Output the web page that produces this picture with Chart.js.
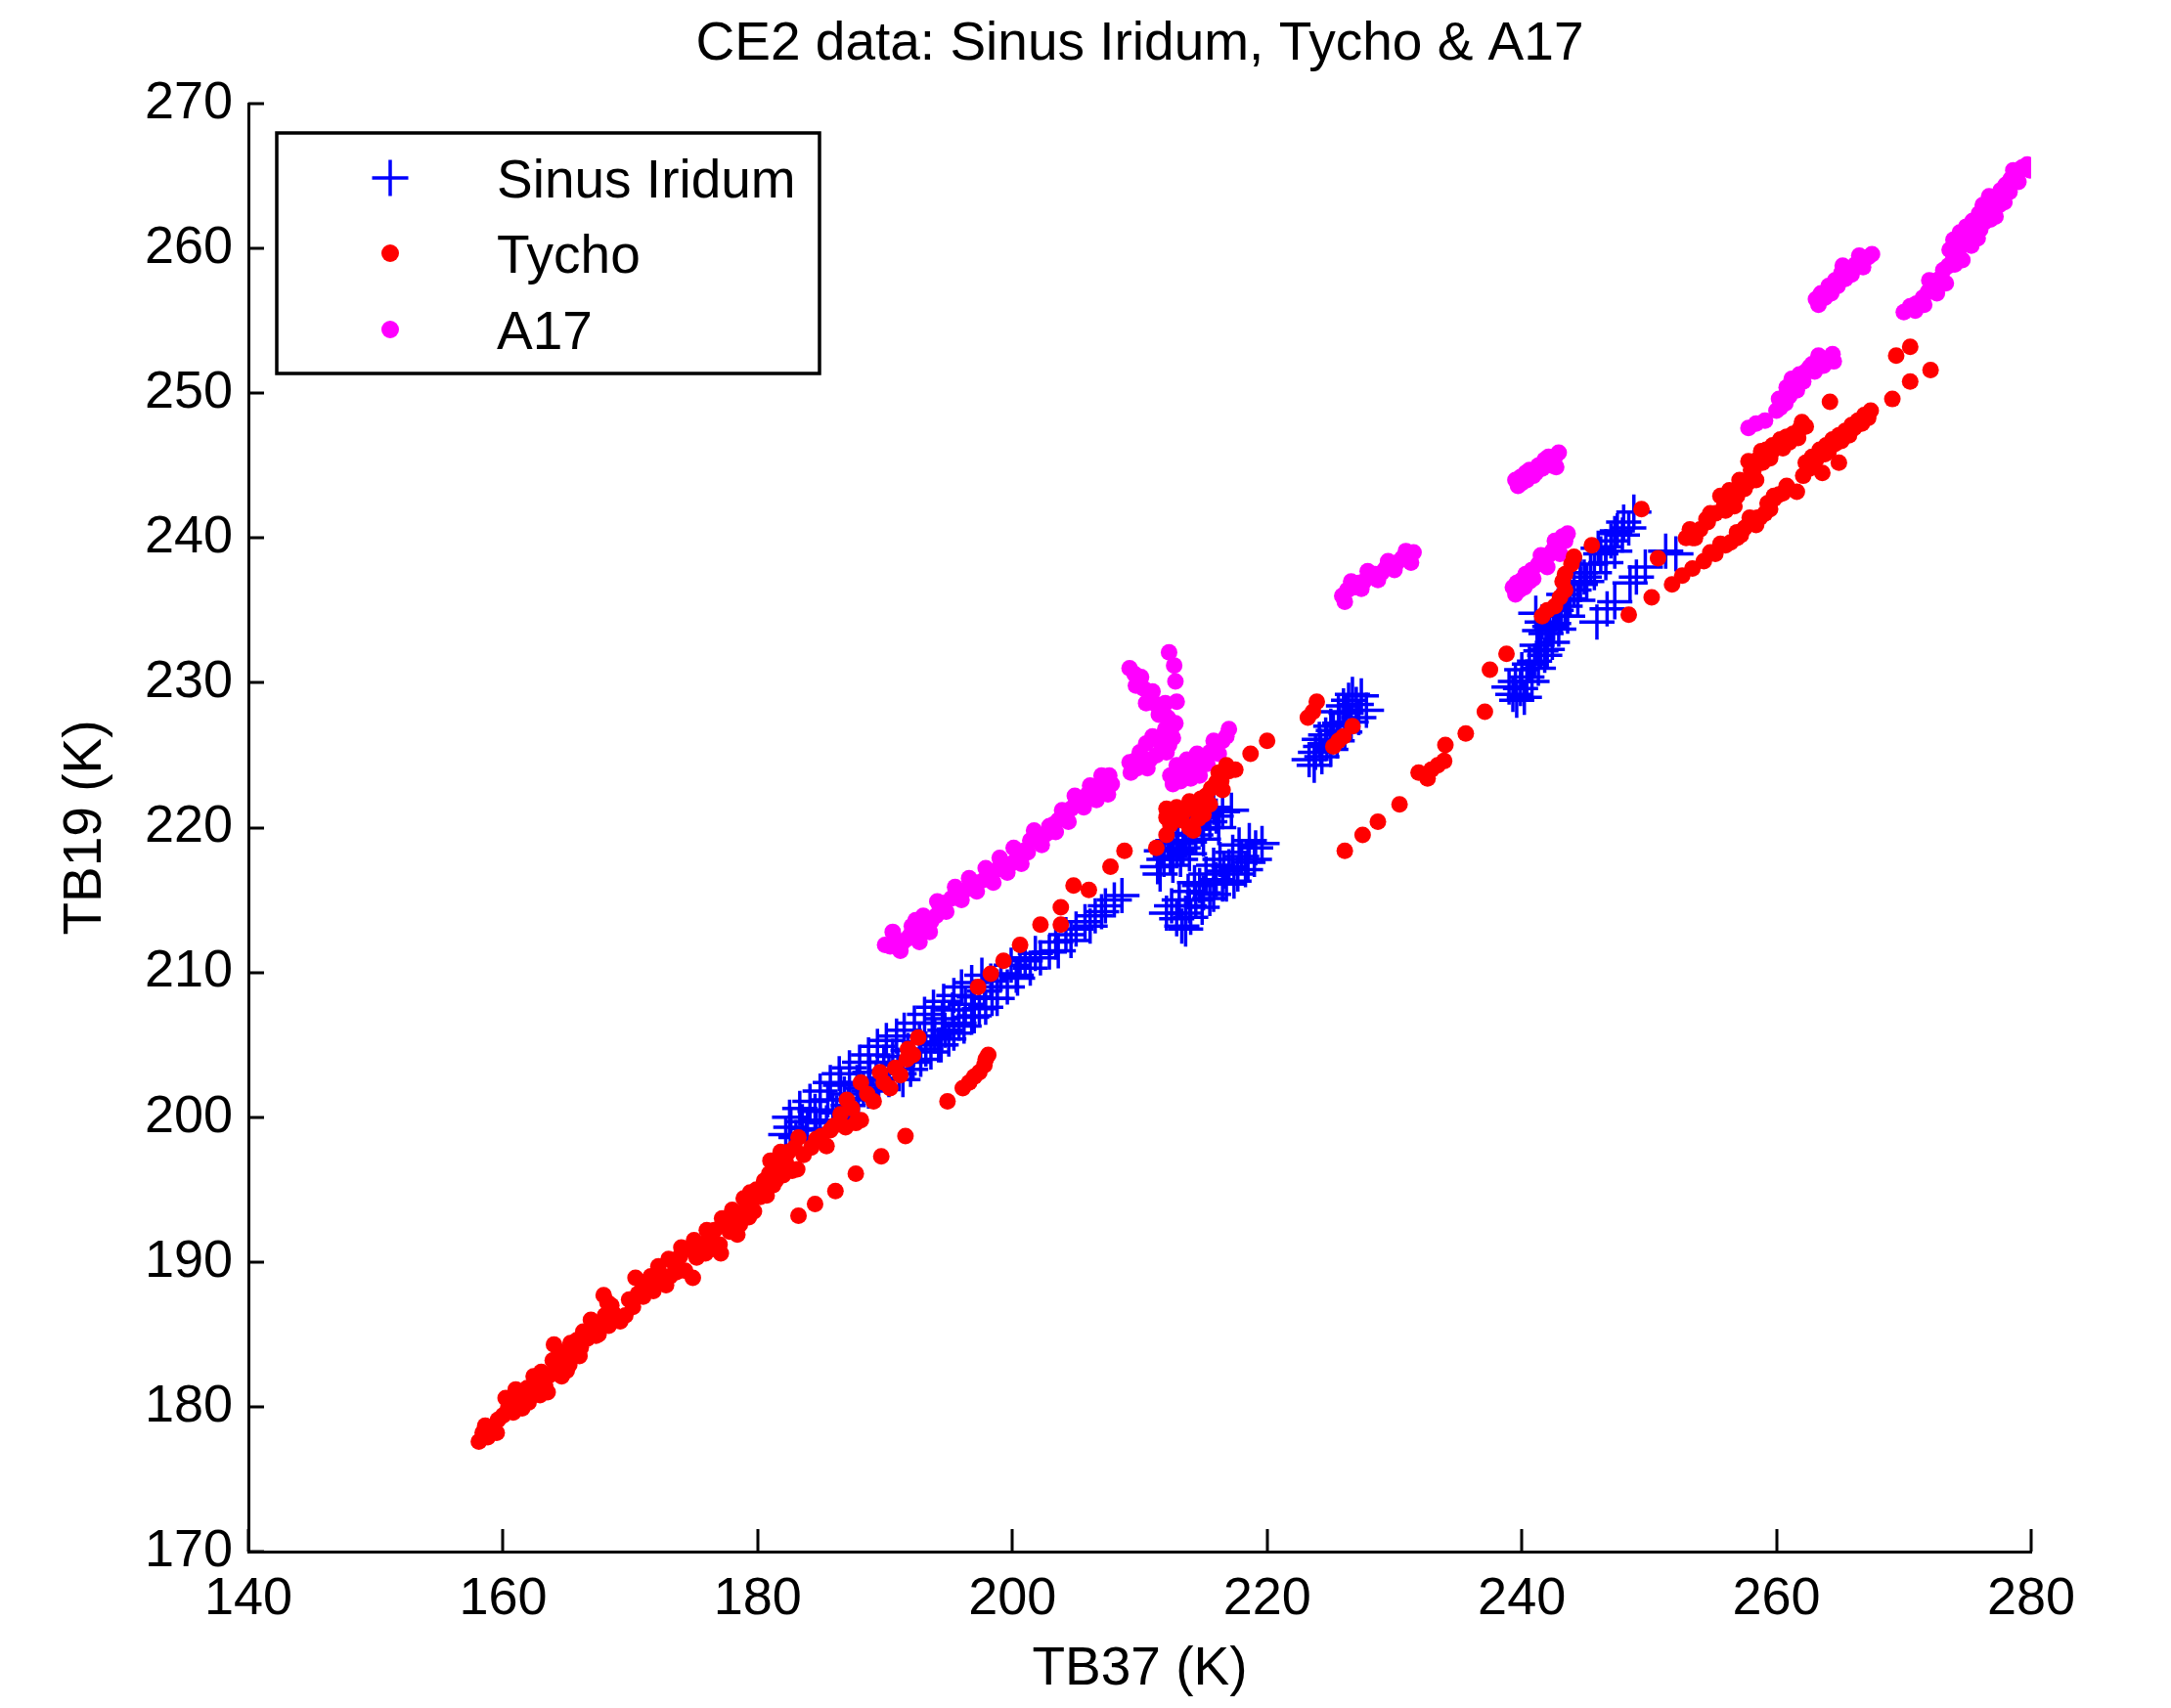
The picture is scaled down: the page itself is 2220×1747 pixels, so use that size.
<!DOCTYPE html>
<html>
<head>
<meta charset="utf-8">
<title>CE2 data: Sinus Iridum, Tycho &amp; A17</title>
<script src="https://cdn.jsdelivr.net/npm/chart.js@4.4.1/dist/chart.umd.min.js"></script>
<style>
html,body{margin:0;padding:0;background:#ffffff;}
#wrap{position:relative;width:2220px;height:1747px;}
canvas{display:block;}
</style>
</head>
<body>
<div id="wrap"><canvas id="chart" width="2220" height="1747"></canvas></div>
<script>
// ---------------- data ----------------
const chartTitle = 'CE2 data: Sinus Iridum, Tycho & A17';
const xAxisLabel = 'TB37 (K)';
const yAxisLabel = 'TB19 (K)';
const seriesNames = ['Sinus Iridum', 'Tycho', 'A17'];
const xRange = [140, 280];
const xStep = 20;
const yRange = [170, 270];
const yStep = 10;

// Sinus Iridum: [TB37, TB19]
const sinusIridum = [
  [182.2,198.8],[182.6,199.3],[183.0,198.6],[183.5,199.7],[183.9,199.2],[184.5,200.4],[184.9,199.8],
  [185.5,201.2],[185.9,200.5],[186.5,202.2],[186.8,201.6],[187.2,201.2],[187.8,202.4],[188.3,202.0],
  [188.8,203.1],[189.3,202.7],[189.9,203.8],[190.3,203.2],[190.6,204.2],[191.0,203.6],[191.4,202.6],
  [191.8,204.6],[192.2,203.8],[192.7,205.2],[193.2,204.7],[193.7,206.5],[193.9,205.6],[194.2,205.0],
  [194.5,206.8],[194.7,206.0],[195.0,205.4],[195.3,207.4],[195.8,206.5],[196.3,207.8],[196.8,206.9],
  [197.0,208.3],[197.4,207.5],[197.8,208.7],[198.3,209.4],[198.4,208.2],[198.8,209.0],[199.1,209.9],
  [199.9,210.5],[200.3,209.8],[200.6,211.0],[201.4,210.3],[202.2,211.0],[202.9,211.4],[203.4,212.1],
  [204.2,212.6],[205.0,213.0],[205.7,213.5],[206.5,213.9],[207.3,214.6],[208.0,215.0],[208.6,215.3],
  [182.5,200.0],[183.3,200.6],[184.1,201.1],[184.9,201.8],[185.7,202.4],[186.4,203.0],[187.2,203.4],
  [188.0,203.8],[188.7,204.3],[189.4,204.9],[190.1,205.3],[190.9,205.6],[191.5,206.0],[192.3,206.5],
  [193.1,207.1],[193.8,207.6],[194.6,208.0],[195.4,208.4],[196.0,209.0],[196.8,209.3],[197.6,209.8],
  [183.8,198.4],[184.6,199.1],[185.4,199.6],[186.2,200.3],[187.1,200.8],[187.9,201.3],[188.7,201.8],
  [189.5,202.2],[190.3,202.6],[191.1,203.0],[192.0,203.3],[192.8,204.0],[193.6,204.5],[194.4,205.0],
  [195.4,205.8],[196.2,206.3],[197.0,207.0],[197.9,207.6],[198.8,208.2],[199.6,209.0],[200.4,209.6],
  [201.0,210.8],[201.8,211.3],[203.6,211.5],[204.6,212.2],[206.1,213.2],[207.0,214.2],
  [211.4,217.3],[211.9,217.8],[212.4,218.0],[212.9,218.4],[213.4,218.6],[213.9,219.0],[214.4,219.5],
  [214.9,219.9],[215.5,220.4],[216.0,220.8],[216.5,221.1],[217.2,221.2],[212.9,219.5],[214.7,220.7],
  [213.2,217.8],[211.7,218.4],[212.2,218.9],[212.6,219.1],[213.6,219.6],[214.2,220.2],[215.2,221.0],
  [215.8,221.4],[213.0,218.9],[211.6,216.8],[212.6,217.4],[213.9,218.2],[215.0,219.2],[216.2,220.0],
  [212.1,214.1],[212.9,213.7],[213.3,213.2],[213.6,214.1],[213.9,214.6],[214.4,215.0],[215.0,215.5],
  [215.5,215.1],[214.7,216.0],[216.0,216.4],[216.5,216.1],[216.6,217.0],[217.0,217.3],[217.7,216.8],
  [218.0,218.0],[218.5,217.6],[219.1,218.6],[219.6,218.9],
  [212.5,214.6],[213.1,215.0],[213.8,215.6],[214.3,216.2],[215.2,216.8],[215.8,217.4],[216.3,217.8],
  [217.3,218.3],[217.8,218.8],[218.6,219.1],[214.0,213.8],[214.9,214.5],[215.8,215.4],[216.8,216.1],
  [217.4,216.3],[218.3,217.1],[219.0,217.8],[213.6,213.0],
  [223.3,224.7],[223.8,225.2],[224.2,225.6],[224.6,226.4],[224.7,225.8],[225.2,226.7],[225.7,227.2],
  [226.0,228.4],[226.2,227.9],[226.7,229.2],[227.0,228.5],[227.8,228.1],
  [223.7,224.3],[224.3,224.9],[225.0,225.4],[225.5,226.0],[226.1,226.6],[226.6,227.3],[227.2,227.6],
  [224.1,226.1],[225.0,227.0],[225.6,228.0],[226.4,228.8],[227.4,229.1],
  [239.0,229.7],[239.5,230.1],[239.6,228.8],[240.0,230.9],[240.2,229.0],[240.6,231.3],[240.8,230.1],
  [241.2,232.6],[241.3,231.0],[241.8,231.9],[241.9,233.4],[242.4,232.8],[242.5,234.1],[242.9,233.7],
  [243.1,234.6],[241.6,234.2],[241.1,234.8],[243.4,235.3],[244.1,236.4],[244.6,236.8],[244.9,237.3],
  [245.4,238.2],[246.2,238.9],[247.0,239.8],[247.3,240.3],[247.5,240.5],[248.0,241.1],[248.8,241.8],
  [239.3,229.2],[239.9,229.6],[240.4,230.4],[241.0,231.5],[241.5,232.2],[242.0,232.3],[242.2,233.9],
  [242.7,235.0],[243.6,234.6],[243.8,235.8],[244.4,235.7],[244.6,237.6],[245.1,237.0],[245.7,237.6],
  [246.0,239.3],[246.6,239.4],[246.6,238.3],[247.3,239.1],[247.9,240.2],[248.4,240.7],[243.3,236.1],
  [241.4,233.6],
  [245.9,234.2],[246.7,235.1],[247.3,235.6],[248.5,236.9],[249.0,237.3],[249.7,238.0],[251.3,239.1],
  [252.1,238.9]
];

// Tycho: [TB37, TB19]
const tycho = [
  [158.1,177.6],[158.4,178.2],[158.8,177.9],[159.2,178.6],[159.6,179.1],[160.0,179.4],[160.4,179.9],
  [160.8,179.6],[160.6,180.5],[161.2,180.3],[161.6,180.7],[161.9,181.3],[162.3,181.0],[162.4,182.1],
  [162.6,181.6],[162.9,180.8],[163.3,181.5],[163.7,182.2],[163.9,183.2],[164.0,184.3],[164.3,182.8],
  [164.6,182.1],[164.9,183.4],[165.2,182.9],[165.5,183.8],[165.8,184.6],[166.1,184.1],[166.3,185.2],
  [166.6,184.7],[167.0,185.4],[167.3,184.9],[167.7,185.6],[168.0,186.3],[168.2,187.2],[168.3,185.6],
  [168.7,186.4],[169.2,185.9],[169.6,186.3],[169.9,187.4],[170.2,186.9],[170.6,187.8],[170.9,188.6],
  [171.3,188.2],[171.6,189.0],[172.0,188.6],[172.4,189.1],[172.8,188.4],[173.1,189.0],[173.5,189.8],
  [173.9,190.4],[174.3,189.4],[174.6,190.9],[174.9,188.9],[175.2,190.3],[175.6,191.2],[175.9,190.6],
  [176.2,191.6],[176.6,192.2],[177.0,191.2],[177.1,190.6],[177.4,192.6],[177.8,192.1],[178.2,193.0],
  [178.6,192.6],[179.0,193.6],[179.3,193.1],[179.6,194.3],[179.9,195.0],[180.2,194.5],[180.5,195.6],
  [180.9,196.1],[181.2,195.3],[181.5,196.6],[181.8,197.6],[182.2,196.9],[182.7,196.3],[183.1,196.4],
  [158.6,178.7],[159.5,178.2],[160.2,180.6],[161.0,181.2],[161.5,179.9],[162.0,180.3],[163.0,182.4],
  [163.5,181.0],[164.4,183.8],[165.0,182.5],[165.3,184.4],[166.0,183.5],[166.9,186.0],[167.5,185.0],
  [167.9,187.7],[168.5,187.0],[170.4,188.9],[171.0,187.6],[171.8,188.0],[172.2,189.7],[173.0,190.2],
  [173.6,189.3],[174.0,191.0],[175.0,191.5],[176.0,192.2],[176.4,190.9],[177.2,193.0],[178.0,193.6],
  [178.4,191.9],[178.9,194.4],[179.4,194.8],[179.7,193.5],[180.7,194.6],[181.0,197.0],[181.4,195.6],
  [182.0,196.0],[182.4,197.6],
  [182.9,197.9],[183.2,198.6],[183.6,197.4],[184.2,197.9],[184.6,198.5],[185.0,198.7],[185.4,198.0],
  [185.7,199.1],[186.0,199.4],[186.5,200.2],[186.9,199.3],[187.0,201.2],[187.4,200.6],[187.7,199.6],
  [188.1,199.8],[188.1,202.4],[188.6,201.6],[189.1,201.1],[189.6,203.1],[189.9,202.4],[190.4,202.0],
  [190.8,203.4],[191.2,202.9],[191.7,204.0],[191.8,204.7],[192.2,204.3],[192.6,205.5],
  [183.2,193.2],[184.5,194.0],[186.1,194.9],[187.7,196.1],[189.7,197.3],[191.6,198.7],
  [194.9,201.1],[196.1,202.0],[196.6,202.4],[197.0,202.8],[197.4,203.1],[197.8,203.6],[197.9,204.0],
  [198.1,204.3],
  [197.3,209.0],[198.3,209.9],[199.3,210.8],[200.6,211.9],[202.2,213.3],[203.8,214.5],[203.8,213.3],
  [204.8,216.0],[206.0,215.7],[207.7,217.3],
  [208.8,218.4],[211.3,218.6],[212.1,219.5],[212.1,220.7],[212.1,221.3],[212.4,220.2],[212.7,221.1],
  [212.9,221.4],[213.9,220.0],[214.2,219.8],[213.9,221.8],[214.4,221.3],[214.6,220.6],[215.0,220.9],
  [215.2,222.2],[215.5,221.6],[216.0,223.1],[216.2,223.8],[216.5,222.6],[217.0,223.9],[217.5,224.0],
  [213.3,220.5],[213.6,221.2],[214.8,222.0],[215.6,222.7],[216.4,223.2],[216.8,224.3],
  [218.7,225.1],[220.0,226.0],
  [223.2,227.6],[223.6,228.0],[223.9,228.7],[225.2,225.6],[225.6,226.0],[226.0,226.3],[226.7,227.0],
  [226.1,218.4],[227.5,219.5],[228.7,220.4],[230.4,221.6],[231.9,223.8],[232.6,223.4],[232.9,224.0],
  [233.4,224.3],[233.9,224.6],[234.0,225.7],[235.6,226.5],[237.1,228.0],[237.5,230.9],[238.8,232.0],
  [241.6,234.6],[242.0,235.0],[242.6,235.3],[243.0,235.9],[243.4,236.4],[243.2,237.0],[243.4,237.5],
  [243.9,238.2],[244.1,238.7],[245.5,239.5],[249.4,242.0],
  [248.4,234.7],[250.2,235.9],[250.7,238.6],[251.8,236.8],[252.6,237.4],[253.4,237.9],[254.3,238.4],
  [255.2,238.9],[256.0,239.5],[256.9,240.0],[257.5,240.7],[258.1,241.0],[258.7,241.4],[259.1,241.7],
  [259.5,242.0],[259.8,242.9],[260.8,243.6],[261.6,243.2],[256.9,240.4],[258.5,241.4],[259.8,242.7],
  [254.8,239.0],[255.6,239.6],[256.4,239.7],[257.2,240.2],[257.9,241.4],[258.4,240.9],[259.3,242.4],
  [260.2,243.0],[260.5,243.1],
  [252.9,240.0],[253.4,240.0],[253.6,240.0],[254.5,241.3],[254.6,241.1],[255.2,241.7],[255.9,242.3],
  [256.4,242.6],[256.9,242.9],[257.2,243.4],[257.5,243.8],[257.5,243.4],[258.0,244.7],[258.2,244.7],
  [258.5,245.4],[259.2,246.1],[259.7,246.4],[260.3,246.8],[260.8,247.0],[261.3,247.2],[261.8,247.5],
  [262.3,247.7],[256.3,243.3],[257.8,245.3],[258.8,246.0],[259.5,245.5],[255.6,242.9],
  [253.2,240.6],[254.0,240.6],[254.8,241.7],[256.0,241.9],[256.7,242.2],[257.1,244.0],[257.9,243.9],
  [258.4,244.0],[258.9,245.2],[259.6,245.9],[260.5,246.2],[261.0,246.6],[261.7,246.9],[262.0,248.0],
  [262.1,244.3],[262.3,245.2],[262.8,245.6],[263.4,246.1],[263.6,244.5],[263.9,246.4],[264.4,246.8],
  [264.9,245.2],[264.9,247.1],[265.4,247.4],[265.9,247.8],[266.4,248.1],[266.9,248.5],[267.4,248.8],
  [262.6,244.8],[263.1,245.4],[263.8,245.8],[264.1,246.0],[264.6,246.5],[265.1,246.7],[265.7,247.1],
  [266.1,247.6],[266.7,247.9],[267.2,248.3],
  [264.2,249.4],[269.1,249.6],[270.5,250.8],[272.1,251.6],[269.4,252.6],[270.5,253.2]
];

// A17: [TB37, TB19]
const a17 = [
  [190.0,211.9],[190.4,211.8],[190.9,212.2],[191.4,212.1],[191.7,212.3],[192.1,213.2],[192.7,212.1],
  [192.8,212.6],[193.2,213.2],[193.6,213.5],[194.0,213.9],[194.3,214.5],[194.7,214.8],[195.2,215.1],
  [195.8,215.5],[196.3,215.7],[196.8,215.9],[197.3,216.2],[197.8,216.4],[198.3,216.8],[198.8,217.1],
  [199.3,217.4],[199.9,217.5],[200.4,218.0],[200.9,218.4],[201.4,219.1],[201.9,219.2],[202.4,219.4],
  [202.7,219.6],[203.2,220.2],[203.6,220.5],[204.1,220.9],[204.6,221.3],[205.0,221.8],[205.4,222.0],
  [205.9,222.3],[206.4,222.5],[206.8,222.8],[207.2,223.1],[207.5,222.3],[207.6,223.6],
  [190.6,212.8],[191.2,211.5],[192.0,212.6],[192.4,213.6],[193.0,213.9],[193.5,212.8],[194.1,214.9],
  [194.8,214.2],[195.5,215.9],[196.0,215.0],[196.6,216.5],[197.2,215.6],[197.9,217.2],[198.5,216.2],
  [199.0,217.9],[199.6,216.9],[200.1,218.6],[200.7,217.5],[201.2,218.3],[201.7,219.8],[202.3,218.8],
  [202.9,220.1],[203.4,219.7],[203.9,221.2],[204.4,220.4],[204.9,222.2],[205.6,221.4],[206.1,222.9],
  [206.6,221.9],[207.0,223.6],[207.8,223.0],
  [209.6,230.6],[209.9,230.2],[210.3,229.6],[210.8,229.0],[211.3,228.5],[211.8,228.1],[212.2,227.6],
  [212.5,226.9],[212.6,226.2],[212.3,225.7],[211.8,225.4],[211.3,225.0],[210.8,224.7],[210.3,224.4],
  [209.8,224.1],[209.3,223.8],[209.2,224.5],[210.0,225.2],[211.7,226.3],
  [209.2,231.0],[209.7,229.8],[210.1,230.4],[210.5,228.6],[211.0,229.4],[211.5,227.8],[212.0,228.6],
  [212.0,226.8],[212.8,227.2],[212.1,225.2],[211.6,225.9],[210.6,224.1],[209.6,224.6],[210.5,225.8],
  [211.0,226.3],
  [212.3,232.1],[212.7,231.2],[212.8,230.1],[212.9,228.7],
  [212.4,223.6],[212.9,224.3],[213.2,223.2],[213.4,224.0],[213.9,224.0],[214.0,223.4],[214.3,224.5],
  [214.7,223.6],[215.0,224.9],[215.5,225.2],[216.0,225.6],[216.5,226.0],[216.8,226.3],
  [212.6,223.0],[213.7,224.7],[214.5,225.1],[215.3,224.4],[215.8,226.0],[216.2,225.1],[217.0,226.8],
  [225.9,236.0],[226.3,236.4],[226.8,236.6],[227.2,236.9],[227.6,237.0],[228.1,237.3],[228.5,237.5],
  [229.0,237.6],[229.3,237.9],[229.8,238.2],[230.2,238.3],[230.6,238.6],[231.1,238.7],[231.5,239.0],
  [226.1,235.6],[226.6,237.0],[227.4,236.5],[227.9,237.7],[228.7,237.1],[229.5,238.4],[230.0,237.8],
  [230.9,239.1],[231.3,238.3],
  [239.3,236.6],[239.6,236.9],[239.8,236.4],[240.0,237.1],[240.3,237.5],[240.6,237.0],[240.8,237.8],
  [241.3,238.2],[241.8,238.6],[242.1,238.8],[242.4,239.1],[242.9,239.4],[243.2,240.1],[243.4,239.8],
  [239.5,236.1],[240.2,236.6],[240.9,237.2],[241.5,238.8],[242.0,238.0],[242.6,239.8],[243.0,238.9],
  [243.6,240.3],
  [239.5,244.0],[239.9,244.2],[240.0,243.8],[240.3,244.5],[240.6,244.7],[240.9,244.3],[241.3,245.0],
  [241.8,245.4],[242.4,245.0],[242.6,245.6],[242.9,245.9],
  [239.7,243.6],[240.4,244.0],[241.1,244.5],[241.6,244.8],[242.1,245.6],[242.7,244.9],
  [257.8,247.6],[258.4,247.9],[259.1,248.1],
  [260.0,248.8],[260.3,249.0],[260.5,249.6],[261.0,249.8],[260.8,250.4],[261.3,250.6],[261.8,251.3],
  [262.3,251.5],[262.8,252.0],[263.0,251.5],[263.4,252.2],[264.1,252.4],[264.4,252.7],
  [260.2,249.6],[260.7,249.3],[261.2,251.0],[261.6,250.2],[262.1,250.8],[262.6,251.8],[263.3,252.6],
  [263.7,251.9],[264.5,252.2],
  [263.1,256.5],[263.5,256.9],[263.8,256.6],[264.1,257.4],[264.3,256.9],[264.6,257.8],[265.1,258.3],
  [265.4,257.9],[265.6,258.6],[266.2,258.9],[266.7,259.2],[267.2,259.4],
  [263.3,256.1],[264.0,256.8],[264.8,257.4],[265.2,258.8],[265.9,258.2],[266.5,259.5],[266.8,258.7],
  [267.5,259.6],
  [270.0,255.6],[270.5,256.0],[271.0,256.2],[271.5,256.6],[271.9,257.0],[272.3,257.5],[272.8,257.9],
  [273.1,258.5],[273.5,258.8],[273.9,259.4],[274.3,259.9],[273.9,260.6],[274.4,261.1],[274.8,260.4],
  [275.2,260.8],[275.7,261.2],[275.4,261.9],[275.9,262.4],[276.3,261.8],[276.5,262.9],[276.9,263.2],
  [277.3,263.6],[277.6,264.0],[277.2,262.2],[278.0,264.4],[278.4,264.8],[278.9,265.2],[279.3,265.6],
  [279.7,265.8],
  [272.6,256.9],[273.3,257.6],[273.6,259.9],[274.0,258.9],[274.6,259.2],[274.2,260.4],[274.9,261.5],
  [275.3,260.2],[275.8,260.7],[276.0,261.3],[276.8,262.0],[276.2,263.0],[276.7,263.6],[277.5,263.0],
  [277.9,263.2],[278.3,263.9],[278.6,265.4],[279.0,264.6],[279.9,265.4],[270.9,255.7],[271.6,256.1],
  [272.0,257.8]
];

// ---------------- drawing ----------------
const FONT = "'Liberation Sans', Arial, Helvetica, sans-serif";
const toPoints = arr => arr.map(([x, y]) => ({x, y}));

const inwardTicks = {
  id: 'inwardTicks',
  afterDraw(chart) {
    const {ctx, chartArea: a, scales: {x, y}} = chart;
    ctx.save();
    ctx.strokeStyle = '#000';
    ctx.lineWidth = 3;
    ctx.beginPath();
    x.ticks.forEach(t => {
      const px = Math.round(x.getPixelForValue(t.value));
      ctx.moveTo(px, a.bottom);
      ctx.lineTo(px, a.bottom - 23);
    });
    y.ticks.forEach(t => {
      const py = Math.round(y.getPixelForValue(t.value));
      ctx.moveTo(a.left, py);
      ctx.lineTo(a.left + 16, py);
    });
    ctx.stroke();
    ctx.restore();
  }
};

const boxLegend = {
  id: 'boxLegend',
  afterDraw(chart) {
    const ctx = chart.ctx;
    const box = {l: 283, t: 136, r: 838, b: 382};
    ctx.save();
    ctx.fillStyle = '#fff';
    ctx.fillRect(box.l, box.t, box.r - box.l, box.b - box.t);
    ctx.strokeStyle = '#000';
    ctx.lineWidth = 3.5;
    ctx.strokeRect(box.l, box.t, box.r - box.l, box.b - box.t);
    const rowsMarker = [182, 259, 337];
    const rowsText = [187, 264, 342];
    const mx = 399, tx = 508;
    chart.data.datasets.forEach((ds, i) => {
      const my = rowsMarker[i];
      if (ds.pointStyle === 'cross') {
        ctx.strokeStyle = ds.borderColor;
        ctx.lineWidth = 3.5;
        ctx.beginPath();
        ctx.moveTo(mx - 18.5, my); ctx.lineTo(mx + 18.5, my);
        ctx.moveTo(mx, my - 18.5); ctx.lineTo(mx, my + 18.5);
        ctx.stroke();
      } else {
        ctx.fillStyle = ds.backgroundColor;
        ctx.beginPath();
        ctx.arc(mx, my, 9, 0, Math.PI * 2);
        ctx.fill();
      }
      ctx.fillStyle = '#000';
      ctx.font = '55px ' + FONT;
      ctx.textAlign = 'left';
      ctx.textBaseline = 'middle';
      ctx.fillText(ds.label, tx, rowsText[i]);
    });
    ctx.restore();
  }
};

const axisFont = {family: FONT, size: 55, weight: 'normal'};
const tickFont = {family: FONT, size: 54, weight: 'normal'};

new Chart(document.getElementById('chart').getContext('2d'), {
  type: 'scatter',
  data: {
    datasets: [
      {label: seriesNames[0], data: toPoints(sinusIridum), pointStyle: 'cross', pointRadius: 18,
       pointBorderWidth: 3.5, borderColor: '#0000ff', backgroundColor: '#0000ff', order: 3},
      {label: seriesNames[1], data: toPoints(tycho), pointStyle: 'circle', pointRadius: 8.5,
       pointBorderWidth: 0, borderColor: '#ff0000', backgroundColor: '#ff0000', order: 1},
      {label: seriesNames[2], data: toPoints(a17), pointStyle: 'circle', pointRadius: 8.5,
       pointBorderWidth: 0, borderColor: '#ff00ff', backgroundColor: '#ff00ff', order: 2}
    ]
  },
  options: {
    responsive: false,
    animation: false,
    devicePixelRatio: 1,
    events: [],
    layout: {padding: {left: 0, right: 143, top: 0, bottom: 0}},
    plugins: {
      legend: {display: false},
      tooltip: {enabled: false},
      title: {
        display: true, text: chartTitle, fullSize: false, color: '#000',
        font: axisFont, padding: {top: 13, bottom: 27}
      }
    },
    scales: {
      x: {
        type: 'linear', min: xRange[0], max: xRange[1],
        ticks: {stepSize: xStep, color: '#000', font: tickFont, padding: 17, maxRotation: 0, autoSkip: false},
        grid: {display: false, drawTicks: false},
        border: {display: true, color: '#000', width: 3},
        title: {display: true, text: xAxisLabel, color: '#000', font: axisFont, padding: {top: 0, bottom: 6}},
        afterFit(s) { s.height = 160; }
      },
      y: {
        type: 'linear', min: yRange[0], max: yRange[1],
        ticks: {stepSize: yStep, color: '#000', font: tickFont, padding: 16, autoSkip: false},
        grid: {display: false, drawTicks: false},
        border: {display: true, color: '#000', width: 3},
        title: {display: true, text: yAxisLabel, color: '#000', font: axisFont, padding: {top: 55, bottom: 0}},
        afterFit(s) { s.width = 254; }
      }
    }
  },
  plugins: [inwardTicks, boxLegend]
});
</script>
</body>
</html>
